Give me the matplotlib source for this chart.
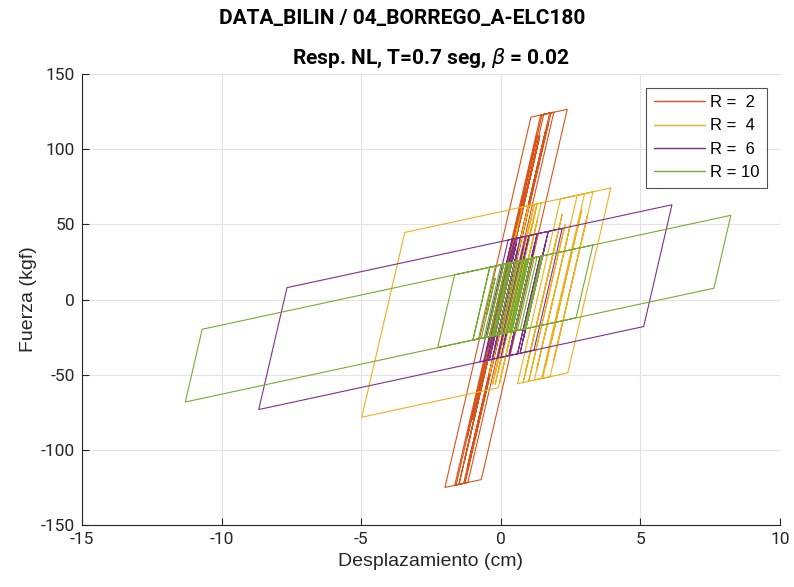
import matplotlib
matplotlib.use("Agg")
import matplotlib.pyplot as plt
from matplotlib import font_manager as fm

# ---------------- data (vertices) ----------------
labels = ["R =  2", "R =  4", "R =  6", "R = 10"]
colors = ["#D95319", "#EDB120", "#7E2F8E", "#77AC30"]

# R = 2
x_r2 = [0, 0.6, -0.5, 0.9, -1.0, 1.54, 1.8, -1.279, -1.5, 1.4, -1.3, 1.29, -1.5, -1.65,
        1.429, 1.75, -1.2, 1.6, -1.329, -2.0, 1.079, 2.38, -0.699, -1.6, 1.3, -1.2,
        1.479, 1.9, -1.179, -1.3, 1.7, -1.1, 1.6, -0.9, 1.4, -0.5, 1.0, 0.0, 0.5]
f_r2 = [0, 48, -40, 72, -80, 123.2, 124.2, -122.1, -123.0, 109.0, -107.0, 100.2, -123.0, -123.6,
        122.7, 124.0, -112.0, 112.0, -122.3, -125.0, 121.3, 126.5, -119.8, -123.4, 108.6, -91.4,
        122.9, 124.6, -121.7, -122.2, 117.8, -106.2, 109.8, -90.2, 93.8, -58.2, 61.8, -18.2, 21.8]

# R = 4
x_r4 = [0, 0.6, -0.5, 0.768, 1.0, -0.4, 1.0, 1.2, -0.2, 1.1, -0.3, 1.2, 1.3, -0.1, 1.2, 0.0,
        1.25, -0.2, 1.1, 0.1, 1.3, 1.45, -0.05, 1.3, 0.0,
        -0.087, -4.98, -3.44, 3.94, 2.40, 1.2, 2.5, 1.3, 2.737, 3.0, 1.463, 1.0, 2.3, 1.0, 0.8,
        2.2, 0.9, 2.0, 0.8, 0.6, 2.137, 3.3, 1.9, 3.1, 1.763, 1.5, 2.9, 1.6, 2.6, 1.8, 2.3]
f_r4 = [0, 48, -40, 61.5, 62.4, -49.6, 62.4, 63.2, -48.8, 55.2, -56.8, 63.2, 63.6, -48.4, 55.6, -40.4,
        59.6, -56.4, 47.6, -32.4, 63.6, 64.2, -55.8, 52.2, -51.8,
        -58.7, -78.3, 44.6, 74.2, -48.8, -53.6, 50.4, -45.6, 69.3, 70.4, -52.5, -54.4, 49.6, -54.4, -55.2,
        56.8, -47.2, 40.8, -55.2, -56.0, 66.9, 71.6, -40.4, 55.6, -51.4, -52.4, 59.6, -44.4, 35.6, -28.4, 11.6]

# R = 6
x_r6 = [0, 0.4, -0.4, 0.507, 0.7, -0.2, 0.6, -0.313, -0.5, 0.5, -0.3, 0.4, -0.5, -8.67,
        -7.657, 6.13, 5.117, 0.6, 1.4, 0.6, 0.3, 1.2, 0.3, 0.0, 1.0, 0.1, 1.013, 1.3, 0.3,
        1.2, 0.4, 1.3, 1.7, 0.8, 1.6, 0.7, 1.7, 2.2, 1.187, -0.75, 0.263, 0.6, -0.4, 0.5,
        -0.3, 0.55, -0.414, -0.6, 0.4, -0.5, 0.413, 0.9, -0.1, 0.8, -0.113, -0.3, 0.6,
        -0.1, 0.4, 0.1]
f_r6 = [0, 32, -32, 40.5, 41.3, -30.7, 33.3, -39.8, -40.5, 39.5, -24.5, 31.5, -40.5, -73.2,
        7.9, 63.0, -18.0, -36.1, 27.9, -36.1, -37.3, 34.7, -37.3, -38.5, 41.5, -30.5, 42.5, 43.7, -36.3,
        35.7, -28.3, 43.7, 45.3, -26.7, 37.3, -34.7, 45.3, 47.3, -33.8, -41.5, 39.6, 41.0, -39.0, 33.0,
        -31.0, 37.0, -40.2, -40.9, 39.1, -32.9, 40.2, 42.1, -37.9, 34.1, -39.0, -39.7, 32.3,
        -23.7, 16.3, -7.7]

# R = 10
x_r10 = [0, 0.303, 0.6, -0.005, -0.5, 0.105, 0.8, 0.195, -0.3, 0.305, 1.0, 0.395, -1.0,
         -0.395, 1.5, 0.895, -11.3, -10.695, 8.24, 7.634, -2.26, -1.655, 3.3, 2.695,
         -0.8, -0.195, 0.5, -0.105, -0.4, 0.205, 1.0, 0.395, 0.2, 0.805, 1.3, 0.695,
         -0.3, 0.305, 0.9, 0.295, -0.6, 0.005, 0.2, -0.405, -1.0, -0.395, 1.1, 0.495,
         0.3, 0.905, 1.45, 0.845, 0.0, 0.605, 0.8, 0.195, -0.5, 0.105, 0.4, -0.205,
         -0.25, 0.355, 1.2, 0.595, 0.5, 1.105, 1.5, 0.895, 0.1, 0.705, 0.95, 0.345,
         -0.7, -0.2, -0.5, -0.35]
f_r10 = [0, 24.2, 25.4, -23.0, -25.0, 23.4, 26.2, -22.2, -24.2, 24.2, 27.0, -21.4, -27.0,
         21.4, 29.0, -19.4, -68.2, -19.8, 56.0, 7.5, -32.0, 16.4, 36.2, -12.2,
         -26.2, 22.2, 25.0, -23.4, -24.6, 23.8, 27.0, -21.4, -22.2, 26.2, 28.2, -20.2,
         -24.2, 24.2, 26.6, -21.8, -25.4, 23.0, 23.8, -24.6, -27.0, 21.4, 27.4, -21.0,
         -21.8, 26.6, 28.8, -19.6, -23.0, 25.4, 26.2, -22.2, -25.0, 23.4, 24.6, -24.2,
         -24.0, 24.4, 27.8, -20.6, -21.0, 27.4, 29.0, -19.4, -22.6, 25.8, 26.8, -21.6,
         -25.8, 14.2, -9.8, 2.2]

series_x = [x_r2, x_r4, x_r6, x_r10]
series_f = [f_r2, f_r4, f_r6, f_r10]

xticks = [-15, -10, -5, 0, 5, 10]
yticks = [-150, -100, -50, 0, 50, 100, 150]

# ---------------- fonts ----------------
avail = {f.name for f in fm.fontManager.ttflist}
narrow = "Liberation Sans Narrow" if "Liberation Sans Narrow" in avail else "Roboto"
regular = "Liberation Sans" if "Liberation Sans" in avail else "DejaVu Sans"
plt.rcParams["font.family"] = [narrow, "DejaVu Sans"]
plt.rcParams["mathtext.fontset"] = "dejavusans"
plt.rcParams["axes.unicode_minus"] = False

fig = plt.figure(figsize=(7.94, 5.87), dpi=100)
ax = fig.add_axes([82 / 794, 1 - 525 / 587, (780 - 82) / 794, (525 - 74) / 587])

for xs, fs, c, lab in zip(series_x, series_f, colors, labels):
    ax.plot(xs, fs, color=c, lw=0.8, label=lab)

ax.set_xlim(-15, 10)
ax.set_ylim(-150, 150)
ax.set_xticks(xticks)
ax.set_yticks(yticks)
ax.grid(True, color="#e3e3e3", lw=0.8)
ax.set_axisbelow(True)
for s in ["top", "right"]:
    ax.spines[s].set_visible(False)
for s in ["left", "bottom"]:
    ax.spines[s].set_color("#262626")
    ax.spines[s].set_linewidth(0.8)
ax.tick_params(direction="in", length=5, width=0.8, colors="#262626", labelsize=12.5, pad=5)

ax.set_xlabel("Desplazamiento (cm)", fontsize=14, color="#262626", family=[regular], labelpad=4)
ax.set_ylabel("Fuerza (kgf)", fontsize=14, color="#262626", family=[regular], labelpad=3)

fig.text(0.507, 1 - 18 / 587, "DATA_BILIN / 04_BORREGO_A-ELC180", ha="center", va="center",
         fontsize=15, fontweight="bold", color="#000000")
ax.set_title(r"Resp. NL, T=0.7 seg, $\beta$ = 0.02", fontsize=15, fontweight="bold", pad=7)

leg = ax.legend(loc="upper right", bbox_to_anchor=(0.982, 0.97), frameon=True,
                fancybox=False, edgecolor="#262626", handlelength=3.1, borderpad=0.45,
                labelspacing=0.5, handletextpad=0.3, borderaxespad=0.0,
                prop={"family": regular, "size": 12})
leg.get_frame().set_linewidth(0.8)
for h, c in zip(leg.get_lines(), colors):
    h.set_color(c)
    h.set_linewidth(1.0)

fig.savefig("out.png", dpi=100)
